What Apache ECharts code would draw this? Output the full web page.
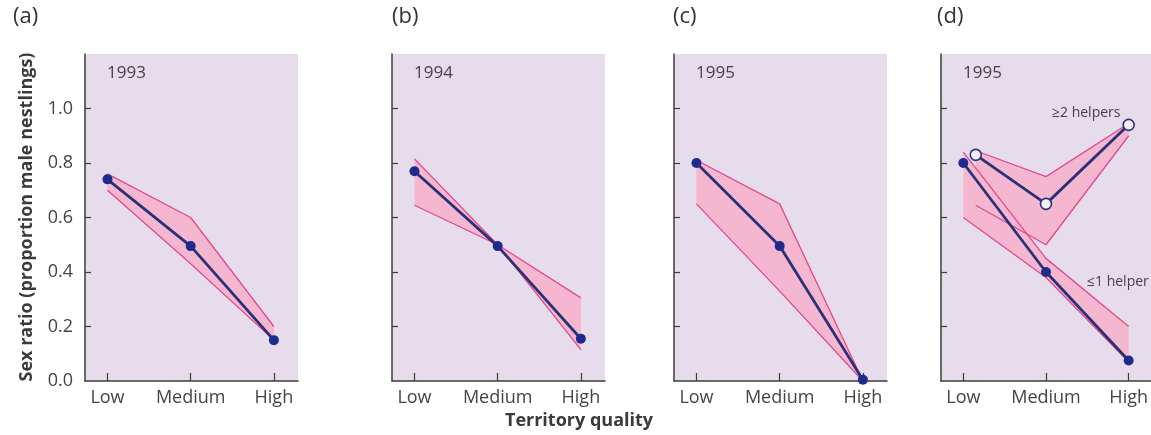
<!DOCTYPE html>
<html>
<head>
<meta charset="utf-8">
<script src="https://cdn.jsdelivr.net/npm/echarts@6/dist/echarts.min.js"></script>
<style>
  html, body { margin: 0; padding: 0; background: #ffffff; }
  #chart { width: 1151px; height: 435px; }
</style>
</head>
<body>
<div id="chart"></div>
<script>
// ---------- data ----------
const categories = ['Low', 'Medium', 'High'];
const catX = [0, 1, 2];
const panelLabels = ['(a)', '(b)', '(c)', '(d)'];
const years = ['1993', '1994', '1995', '1995'];
const yTicks = [0, 0.2, 0.4, 0.6, 0.8, 1.0];

// (a) 1993
const meanA = [0.74, 0.495, 0.15];
const upperA = [0.76, 0.60, 0.20];
const lowerA = [0.70, 0.43, 0.15];
// (b) 1994
const meanB = [0.77, 0.495, 0.155];
const upperB = [0.815, 0.50, 0.115];
const lowerB = [0.645, 0.50, 0.305];
// (c) 1995
const meanC = [0.80, 0.495, 0.005];
const upperC = [0.81, 0.65, 0.0];
const lowerC = [0.65, 0.33, 0.0];
// (d) 1995, <=1 helper
const meanD1 = [0.80, 0.40, 0.075];
const upperD1 = [0.84, 0.45, 0.20];
const lowerD1 = [0.60, 0.38, 0.07];
// (d) 1995, >=2 helpers
const helpersX = [0.15, 1, 2];
const meanD2 = [0.83, 0.65, 0.94];
const upperD2 = [0.845, 0.75, 0.945];
const lowerD2 = [0.645, 0.50, 0.90];

// ---------- style ----------
const BG = '#e6dcec';
const FILL = '#f5b7d0';
const PINK = '#e04a8c';
const NAVY = '#2b3176';
const DOT = '#1c2b8c';
const AXIS = '#3c3c3c';
const TXT = '#444444';
const FONT = '"Open Sans", "Noto Sans", sans-serif';

const gridLefts = [85, 392, 674, 941];
const gridWidths = [213, 213, 213, 210];
const xMax = [2.29, 2.29, 2.29, 2.27];

const chart = echarts.init(document.getElementById('chart'), null, { renderer: 'canvas' });

const grids = [], xAxes = [], yAxes = [], series = [];

for (let i = 0; i < 4; i++) {
  grids.push({
    left: gridLefts[i], top: 54, width: gridWidths[i], height: 327,
    show: true, backgroundColor: BG, borderWidth: 0
  });
  xAxes.push({
    gridIndex: i, type: 'value', min: -0.27, max: xMax[i],
    splitLine: { show: false },
    axisLine: { show: true, onZero: false, lineStyle: { color: AXIS, width: 1.5 } },
    axisTick: { show: true, inside: true, length: 8, customValues: catX, lineStyle: { color: AXIS, width: 1.2 } },
    axisLabel: {
      show: true, customValues: catX, margin: 8,
      color: TXT, fontSize: 18, fontFamily: FONT,
      formatter: v => categories[catX.indexOf(Math.round(v))]
    }
  });
  yAxes.push({
    gridIndex: i, type: 'value', min: 0, max: 1.2, interval: 0.2,
    splitLine: { show: false },
    axisLine: { show: true, onZero: false, lineStyle: { color: AXIS, width: 1.5 } },
    axisTick: { show: true, inside: true, length: 6, customValues: yTicks.slice(1), lineStyle: { color: AXIS, width: 1.2 } },
    axisLabel: {
      show: i === 0, customValues: yTicks, margin: 12,
      color: TXT, fontSize: 18, fontFamily: FONT,
      formatter: v => v.toFixed(1)
    }
  });
}

function bandRing(xs, up, lo) {
  const ring = [];
  for (let k = 0; k < xs.length; k++) ring.push([xs[k], up[k]]);
  for (let k = xs.length - 1; k >= 0; k--) ring.push([xs[k], lo[k]]);
  return ring;
}
function pts(xs, ys) { return xs.map((x, k) => [x, ys[k]]); }

function bandSeries(idx, xs, up, lo) {
  series.push({
    type: 'custom', xAxisIndex: idx, yAxisIndex: idx, silent: true, z: 1,
    data: bandRing(xs, up, lo),
    renderItem: function (params, api) {
      if (params.dataIndexInside !== 0) return null;
      const points = [];
      for (let k = 0; k < params.dataInsideLength; k++) {
        points.push(api.coord([api.value(0, k), api.value(1, k)]));
      }
      return {
        type: 'polygon',
        shape: { points: points },
        style: { fill: FILL, stroke: null }
      };
    }
  });
  [up, lo].forEach(arr => {
    series.push({
      type: 'line', xAxisIndex: idx, yAxisIndex: idx, silent: true, z: 2,
      data: pts(xs, arr), showSymbol: false, symbol: 'none',
      lineStyle: { color: PINK, width: 1.3 }
    });
  });
}

function meanSeries(idx, xs, ys, open) {
  series.push({
    type: 'line', xAxisIndex: idx, yAxisIndex: idx, silent: true, z: 3,
    data: pts(xs, ys), symbol: 'circle', symbolSize: open ? 11 : 10,
    lineStyle: { color: NAVY, width: 2.8 },
    itemStyle: open
      ? { color: '#f4eef8', borderColor: NAVY, borderWidth: 1.6 }
      : { color: DOT, borderColor: DOT, borderWidth: 0 }
  });
}

bandSeries(0, catX, upperA, lowerA);
meanSeries(0, catX, meanA, false);
bandSeries(1, catX, upperB, lowerB);
meanSeries(1, catX, meanB, false);
bandSeries(2, catX, upperC, lowerC);
meanSeries(2, catX, meanC, false);
bandSeries(3, catX, upperD1, lowerD1);
bandSeries(3, helpersX, upperD2, lowerD2);
meanSeries(3, catX, meanD1, false);
meanSeries(3, helpersX, meanD2, true);

// ---------- texts ----------
const graphic = [];
const labelX = [13, 392, 673, 937];
for (let i = 0; i < 4; i++) {
  graphic.push({
    type: 'text', left: labelX[i], top: 6,
    style: { text: panelLabels[i], fill: '#333333', font: '22px ' + FONT }
  });
  graphic.push({
    type: 'text', x: gridLefts[i] + 22, y: 73,
    style: { text: years[i], fill: TXT, font: '17px ' + FONT, textVerticalAlign: 'middle' }
  });
}
graphic.push({
  type: 'text', x: 27, y: 217, rotation: Math.PI / 2,
  style: { text: 'Sex ratio (proportion male nestlings)', fill: '#3a3a3a',
    font: 'bold 18px ' + FONT, textAlign: 'center', textVerticalAlign: 'middle' }
});
graphic.push({
  type: 'text', x: 579, y: 421,
  style: { text: 'Territory quality', fill: '#3a3a3a',
    font: 'bold 18px ' + FONT, textAlign: 'center', textVerticalAlign: 'middle' }
});
graphic.push({
  type: 'text', x: 1052, y: 113,
  style: { text: '≥2 helpers', fill: TXT, font: '14px ' + FONT, textVerticalAlign: 'middle' }
});
graphic.push({
  type: 'text', x: 1087, y: 282,
  style: { text: '≤1 helper', fill: TXT, font: '14px ' + FONT, textVerticalAlign: 'middle' }
});

chart.setOption({
  animation: false,
  backgroundColor: '#ffffff',
  grid: grids,
  xAxis: xAxes,
  yAxis: yAxes,
  series: series,
  graphic: graphic
});
</script>
</body>
</html>
